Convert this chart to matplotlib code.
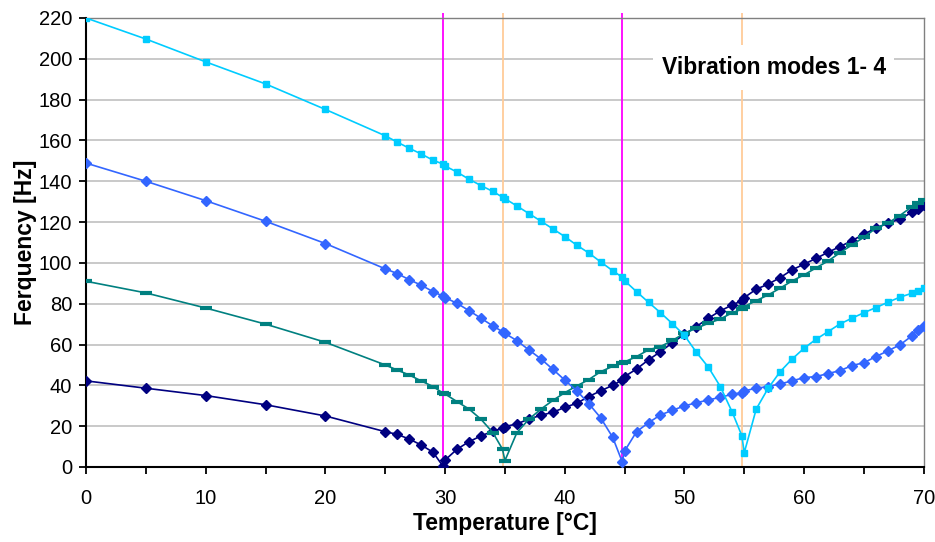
import matplotlib
matplotlib.use("Agg")
import matplotlib.pyplot as plt
from matplotlib.patches import Rectangle

# temperature steps shared by all four modes
temp = [0, 5, 10, 15, 20, 25, 26, 27, 28, 29, 29.8, 30, 31, 32, 33, 34, 34.8, 35,
        36, 37, 38, 39, 40, 41, 42, 43, 44, 44.8, 45, 46, 47, 48, 49, 50, 51, 52,
        53, 54, 54.8, 55, 56, 57, 58, 59, 60, 61, 62, 63, 64, 65, 66, 67, 68, 69,
        69.5, 70]

mode1 = [42.2, 38.6, 35.0, 30.5, 25.0, 17.3, 16.0, 13.7, 10.8, 7.2, 0.6, 3.4, 8.7,
         12.4, 15.2, 17.6, 19.0, 19.8, 21.1, 23.5, 25.3, 26.8, 29.2, 31.2, 34.5,
         37.3, 40.0, 42.6, 44.3, 48.0, 52.5, 56.5, 60.9, 65.0, 68.8, 72.9, 76.5,
         79.4, 81.5, 83.0, 87.1, 89.6, 92.8, 96.6, 99.4, 102.2, 105.2, 108.0, 110.9,
         114.1, 117.0, 119.5, 121.4, 124.8, 126.3, 128.4]

mode2 = [91.0, 85.3, 77.9, 70.0, 61.1, 50.0, 47.5, 45.1, 42.2, 39.4, 36.3, 35.8, 32.0,
         28.4, 23.4, 16.8, 8.7, 3.1, 16.8, 23.4, 28.3, 32.6, 36.4, 39.7, 42.8, 46.7,
         49.3, 50.8, 51.5, 54.1, 57.4, 59.0, 62.0, 65.5, 68.0, 70.4, 72.5, 75.6, 77.3,
         78.6, 81.5, 84.3, 87.6, 91.2, 94.1, 97.6, 100.9, 105.0, 108.8, 112.6, 117.0,
         119.5, 123.2, 127.5, 129.5, 131.0]

mode3 = [148.9, 140.0, 130.5, 120.4, 109.5, 97.1, 94.8, 91.8, 89.1, 85.9, 83.8, 83.0,
         80.2, 76.6, 72.9, 69.1, 66.3, 65.5, 61.9, 57.4, 53.0, 47.9, 42.6, 37.4, 31.1,
         24.1, 14.6, 2.6, 7.8, 17.3, 21.7, 25.5, 27.8, 29.9, 31.5, 32.8, 34.2, 35.6,
         36.4, 37.3, 38.6, 39.4, 40.7, 42.2, 43.8, 44.3, 45.8, 47.2, 49.7, 51.1, 54.1,
         56.9, 59.8, 64.2, 67.2, 69.1]

mode4 = [220.0, 209.7, 198.5, 187.7, 175.2, 162.3, 159.2, 156.2, 153.4, 150.3, 148.5,
         147.5, 144.5, 141.0, 137.9, 135.0, 132.2, 131.5, 127.9, 124.2, 120.5, 116.7,
         112.9, 108.7, 104.9, 100.5, 96.2, 93.0, 91.3, 85.9, 80.7, 75.6, 70.2, 64.5,
         56.2, 48.9, 39.4, 26.8, 15.3, 7.0, 28.4, 38.6, 46.7, 52.9, 58.2, 62.6, 66.3,
         70.1, 72.9, 75.6, 78.1, 80.7, 83.2, 85.1, 86.3, 87.6]

# resonance marker lines
magenta_x = [29.85, 44.8]
orange_x = [34.8, 54.8]

plt.rcParams['font.family'] = ['Liberation Sans', 'DejaVu Sans']

fig = plt.figure(figsize=(9.35, 5.42), dpi=100)
ax = fig.add_axes([0.092, 0.1384, 0.896, 0.8284])

ax.set_xlim(0, 70)
ax.set_ylim(0, 220)
ax.set_xticks(range(0, 71, 10))
ax.set_xticks(range(0, 71, 5), minor=True)
ax.set_yticks(range(0, 221, 20))
ax.yaxis.grid(True, color='#C0C0C0', lw=1.2)
ax.set_axisbelow(True)

for s in ['top', 'right']:
    ax.spines[s].set_color('#808080')
    ax.spines[s].set_linewidth(1.0)
for s in ['left', 'bottom']:
    ax.spines[s].set_color('black')
    ax.spines[s].set_linewidth(1.5)

ax.tick_params(axis='both', which='both', direction='out', length=5, width=1.3,
               labelsize=14.5, colors='black')
ax.tick_params(axis='x', which='minor', labelbottom=False)
ax.tick_params(axis='x', pad=11)
ax.tick_params(axis='y', pad=5)

ax.vlines(magenta_x, 0, 222.5, colors='#FF00FF', lw=1.3, zorder=1.5, clip_on=False)
ax.vlines(orange_x, 0, 222.5, colors='#FFCC99', lw=1.3, zorder=1.5, clip_on=False)

ax.plot(temp, mode1, color='#000080', lw=1.2, marker='D', ms=5.2, zorder=3)
ax.plot(temp, mode2, color='#008080', lw=1.2, marker='_', ms=9, mew=3, zorder=3)
ax.plot(temp, mode3, color='#3366FF', lw=1.2, marker='D', ms=5.2, zorder=3)
ax.plot(temp, mode4, color='#00CCFF', lw=1.2, marker='s', ms=5, zorder=3)

ax.add_patch(Rectangle((47.4, 184.8), 20.1, 22.1, facecolor='white',
                       edgecolor='none', zorder=4))
ax.text(57.5, 195.8, 'Vibration modes 1- 4', ha='center', va='center',
        fontsize=16.5, fontweight='bold', zorder=5)

ax.set_xlabel('Temperature [°C]', fontsize=16.5, fontweight='bold', labelpad=3)
ax.set_ylabel('Ferquency [Hz]', fontsize=16.5, fontweight='bold', labelpad=1)

fig.savefig('out.png', dpi=100)
